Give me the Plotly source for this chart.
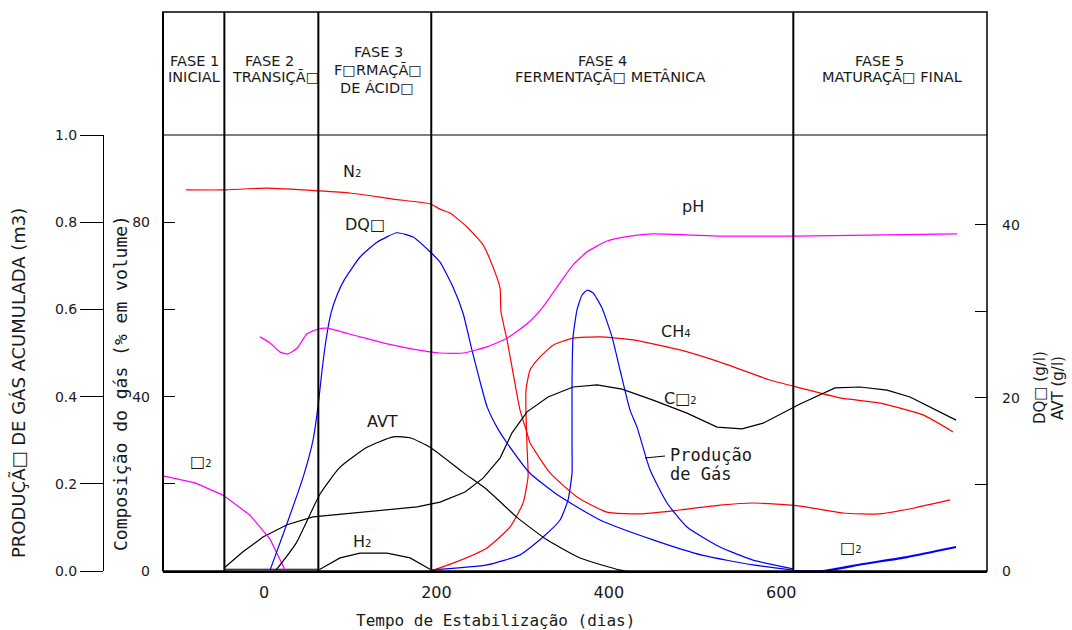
import plotly.graph_objects as go

# ---------------------------------------------------------------------------
# Data (time in days)
# ---------------------------------------------------------------------------
phase_bounds = [-46, 63, 194, 614]

# Gas composition (% in volume)
n2_days = [-90.5, -47.6, 3.5, 62.6, 99.8, 149.7, 192.6, 204.2, 215.8, 235.5, 254.1,
           265.7, 273.8, 274.9, 281.9, 288.9, 297.0, 305.1, 308.6, 331.8, 363.1,
           397.9, 436.2, 474.5, 529.0, 567.3, 621.8, 671.7, 714.6, 752.9, 795.8]
n2_pct = [87.4, 87.4, 87.8, 87.2, 86.7, 85.3, 84.2, 83.0, 82.1, 78.9, 74.8,
          69.7, 64.9, 59.4, 53.0, 45.4, 36.9, 31.7, 29.4, 22.5, 17.0,
          13.5, 13.1, 13.8, 15.1, 15.6, 14.9, 13.3, 13.1, 14.4, 16.3]

ch4_days = [193.7, 219.3, 258.7, 285.4, 300.5, 306.3, 305.1, 303.9, 303.9, 308.6,
            320.2, 335.3, 358.5, 389.8, 428.1, 482.6, 529.0, 587.0, 621.8, 668.2,
            714.6, 764.5, 799.3]
ch4_pct = [0.0, 1.8, 5.3, 10.1, 15.6, 21.6, 28.4, 36.2, 41.5, 46.1,
           49.1, 51.8, 53.4, 53.7, 53.0, 50.7, 47.9, 43.8, 42.0, 39.7,
           38.5, 35.8, 31.9]

co2_days = [-46.4, -24.4, -1.2, 26.7, 56.8, 111.4, 177.5, 204.2, 233.2, 254.1,
            273.8, 287.7, 305.1, 329.5, 358.5, 386.3, 415.3, 451.3, 490.7, 525.5,
            554.5, 578.9, 621.8, 662.4, 691.4, 722.7, 749.4, 802.8]
co2_pct = [0.7, 4.4, 7.8, 10.6, 12.4, 13.5, 14.7, 15.8, 18.1, 21.3,
           25.9, 31.7, 36.5, 39.9, 42.2, 42.7, 41.7, 39.2, 36.2, 33.0,
           32.6, 33.9, 38.3, 42.0, 42.2, 41.5, 39.9, 34.6]

h2_days = [-46.4, 62.6, 65.0, 88.2, 111.4, 142.7, 169.4, 192.6]
h2_pct = [0.4, 0.4, 0.4, 3.0, 4.1, 4.1, 3.0, 0.4]

o2_days = [-117.2, -80.0, -47.6, -16.2, 7.0, 15.1, 24.4]
o2_pct = [21.8, 20.2, 17.4, 12.8, 7.3, 4.1, 0.2]

o2_late_days = [613.7, 648.5, 694.9, 745.9, 802.8]
o2_late_pct = [0.0, 0.0, 1.6, 3.2, 5.5]

# DQO and AVT (g/l)
dqo_days = [7.0, 26.7, 45.2, 56.8, 62.6, 67.3, 71.9, 77.7, 84.7, 92.8, 111.4,
            131.1, 154.3, 172.9, 192.6, 204.2, 219.3, 230.9, 241.3, 250.6, 258.7,
            270.3, 281.9, 308.6, 343.4, 389.8, 451.3, 509.3, 567.3, 613.7]
dqo_gl = [0.1, 5.5, 10.8, 15.1, 19.0, 23.2, 26.7, 29.8, 31.9, 33.6, 36.3,
          38.0, 39.1, 38.6, 36.9, 35.7, 32.8, 29.8, 25.5, 21.9, 19.0,
          16.6, 14.8, 11.3, 8.6, 5.9, 3.6, 1.8, 0.7, 0.1]

avt_days = [13.9, 37.1, 65.0, 88.2, 119.5, 149.7, 169.4, 192.6, 230.9, 258.7,
            293.5, 328.3, 366.6, 413.0, 418.8]
avt_gl = [0.1, 3.2, 8.9, 12.0, 14.3, 15.5, 15.4, 14.3, 11.4, 9.4,
          6.2, 3.6, 1.5, 0.1, 0.0]

# Gas production (m3)
gas_days = [193.7, 258.7, 297.0, 323.7, 343.4, 352.7, 357.3, 357.3, 357.3, 357.3,
            358.5, 363.1, 368.9, 374.7, 381.7, 392.1, 403.7, 413.0, 424.6, 432.7,
            447.8, 467.5, 490.7, 529.0, 567.3, 613.7]
gas_m3 = [0.002, 0.014, 0.037, 0.078, 0.117, 0.163, 0.225, 0.284, 0.362, 0.438,
          0.537, 0.599, 0.633, 0.644, 0.638, 0.603, 0.537, 0.461, 0.369, 0.330,
          0.232, 0.156, 0.101, 0.055, 0.025, 0.005]

# pH
ph_days = [-4.6, 7.0, 18.6, 27.8, 38.3, 49.9, 62.6, 73.1, 111.4, 149.7, 172.9,
           204.2, 230.9, 258.7, 281.9, 305.1, 323.7, 343.4, 358.5, 374.7, 397.9,
           424.6, 451.3, 490.7, 529.0, 567.3, 618.3, 804.0]
ph_val = [5.37, 5.23, 5.02, 4.98, 5.11, 5.44, 5.55, 5.57, 5.37, 5.18, 5.09,
          5.00, 5.00, 5.14, 5.34, 5.67, 6.06, 6.61, 7.02, 7.32, 7.57,
          7.68, 7.73, 7.71, 7.68, 7.68, 7.68, 7.73]

x_ticks = [0, 200, 400, 600]
pct_ticks = [0, 20, 40, 60, 80]
pct_text = ["0", "", "40", "", "80"]
m3_ticks = [0.0, 0.2, 0.4, 0.6, 0.8, 1.0]
gl_ticks = [0, 10, 20, 30, 40]
gl_text = ["0", "", "20", "", "40"]

# Phase headings: (text line, centre x px, centre y px)
phase_titles = [
    [("FASE 1", 194, 61), ("INICIAL", 194, 77)],
    [("FASE 2", 269, 61), ("TRANSIÇÃ□", 275, 77)],
    [("FASE 3", 378, 52), ("F□RMAÇÃ□", 378, 70), ("DE ÁCID□", 377, 88)],
    [("FASE 4", 602, 61), ("FERMENTAÇÃ□ METÂNICA", 610, 77)],
    [("FASE 5", 879, 61), ("MATURAÇÃ□ FINAL", 892, 77)],
]

# ---------------------------------------------------------------------------
# Layout geometry (pixels)
# ---------------------------------------------------------------------------
W, H = 1072, 630
L, R, T, B = 163, 987, 12, 571
HEADER = 135
X_RANGE = [-117.2, 838.7]

SANS = "DejaVu Sans"
MONO = "DejaVu Sans Mono"
INK = "#1a1a1a"
RED, BLUE, MAG, BLK = "#ff0000", "#0000ff", "#ff00ff", "#000000"


def sub(s):
    return "<span style='font-size:10px'>%s</span>" % s


def pxx(x):
    return x / W


def pxy(y):
    return (B - y) / (B - T)


fig = go.Figure()


def curve(x, y, color, axis, shape="spline", width=1.2):
    fig.add_trace(go.Scatter(
        x=x, y=y, mode="lines", yaxis=axis, hoverinfo="skip", showlegend=False,
        line=dict(color=color, width=width, shape=shape, smoothing=0.5),
    ))


curve(n2_days, n2_pct, RED, "y")
curve(ch4_days, ch4_pct, RED, "y")
curve(co2_days, co2_pct, BLK, "y", shape="linear")
curve(h2_days, h2_pct, BLK, "y", shape="linear")
curve(o2_days, o2_pct, MAG, "y", shape="linear")
curve(o2_late_days, o2_late_pct, BLUE, "y", width=2.2)
curve(dqo_days, dqo_gl, BLUE, "y3")
curve(avt_days, avt_gl, BLK, "y3")
curve(gas_days, gas_m3, BLUE, "y2")
curve(ph_days, ph_val, MAG, "y4")

# Frame, header separator and phase boundaries
shapes = [
    dict(type="rect", xref="paper", yref="paper", x0=pxx(L), x1=pxx(R), y0=0, y1=1,
         line=dict(color=BLK, width=1.5)),
    dict(type="line", xref="paper", yref="paper", x0=pxx(L), x1=pxx(L), y0=0, y1=1,
         line=dict(color=BLK, width=2)),
    dict(type="line", xref="paper", yref="paper", x0=pxx(L), x1=pxx(R),
         y0=pxy(HEADER), y1=pxy(HEADER), line=dict(color=BLK, width=1.2)),
    dict(type="line", xref="paper", yref="paper", x0=pxx(645), x1=pxx(665),
         y0=pxy(458), y1=pxy(456), line=dict(color=BLK, width=1)),
]
for b in phase_bounds:
    shapes.append(dict(type="line", xref="x", yref="paper", x0=b, x1=b, y0=0, y1=1,
                       line=dict(color=BLK, width=2)))

annotations = []


def note(text, x, y, size=16, family=SANS, xanchor="center", angle=0):
    annotations.append(dict(
        text=text, x=pxx(x), y=pxy(y), xref="paper", yref="paper", showarrow=False,
        xanchor=xanchor, yanchor="middle", textangle=angle, align=xanchor if xanchor != "center" else "center",
        font=dict(family=family, size=size, color=INK),
    ))


for group in phase_titles:
    for text, x, y in group:
        note(text, x, y, size=14.5)

# Curve labels
note("N" + sub("2"), 352, 171)
note("DQ□", 365, 224)
note("pH", 693, 207)
note("CH" + sub("4"), 676, 331)
note("C□" + sub("2"), 680, 398)
note("AVT", 382, 421)
note("□" + sub("2"), 201, 462)
note("H" + sub("2"), 362, 541)
note("□" + sub("2"), 851, 547)
note("Produção", 668, 455, size=17, family=MONO, xanchor="left")
note("de Gás", 668, 474, size=17, family=MONO, xanchor="left")

# Axis titles
note("PRODUÇÃ□ DE GÁS ACUMULADA (m3)", 18, 383, size=18, angle=-90)
note("Composição do gás (% em volume)", 120, 383, size=18, family=MONO, angle=-90)
note("DQ□ (g/l)", 1040, 388, size=15, angle=-90)
note("AVT (g/l)", 1058, 388, size=15, angle=-90)
note("Tempo de Estabilização (dias)", 495, 620, size=16, family=MONO)

y_domain = [0, (B - HEADER) / (B - T)]

fig.update_layout(
    width=W, height=H,
    margin=dict(l=0, r=0, t=T, b=H - B),
    paper_bgcolor="white", plot_bgcolor="white",
    showlegend=False,
    shapes=shapes,
    annotations=annotations,
    xaxis=dict(
        domain=[pxx(L), pxx(R)], range=X_RANGE, showgrid=False, zeroline=False,
        showline=True, linecolor=BLK, linewidth=2,
        ticks="outside", ticklen=6, tickcolor="rgba(0,0,0,0)",
        tickvals=x_ticks, tickfont=dict(family=SANS, size=16, color=INK),
        automargin=False,
    ),
    yaxis=dict(
        domain=y_domain, range=[0, 100], showgrid=False, zeroline=False,
        showline=False, ticks="inside", ticklen=12, tickcolor=BLK, tickwidth=1,
        tickvals=pct_ticks, ticktext=pct_text, ticklabelstandoff=12,
        tickfont=dict(family=SANS, size=14, color=INK), automargin=False,
    ),
    yaxis2=dict(
        overlaying="y", anchor="free", position=pxx(103), side="left",
        range=[0, 1], showgrid=False, zeroline=False,
        showline=True, linecolor=BLK, linewidth=1,
        ticks="outside", ticklen=23, tickcolor=BLK, tickwidth=1,
        tickvals=m3_ticks, tickformat=".1f",
        tickfont=dict(family=SANS, size=14, color=INK), automargin=False,
    ),
    yaxis3=dict(
        overlaying="y", anchor="x", side="right", range=[0, 50.4],
        showgrid=False, zeroline=False, showline=False,
        ticks="inside", ticklen=12, tickcolor=BLK, tickwidth=1,
        tickvals=gl_ticks, ticktext=gl_text, ticklabelstandoff=14,
        tickfont=dict(family=SANS, size=14, color=INK), automargin=False,
    ),
    yaxis4=dict(overlaying="y", range=[0, 10], visible=False),
)

fig.write_html("out.html")
